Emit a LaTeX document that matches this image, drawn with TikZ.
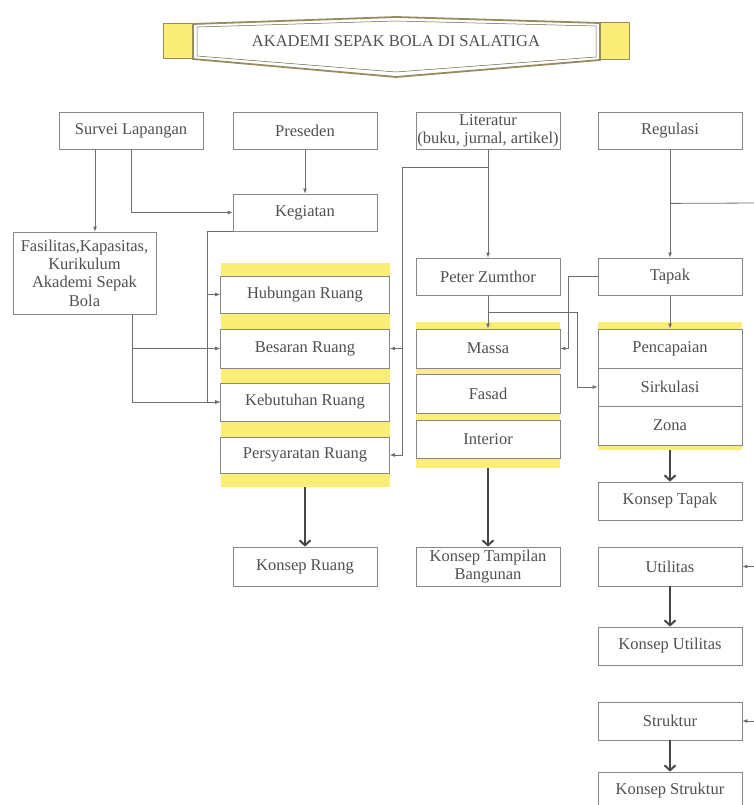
\documentclass[tikz,border=0pt]{standalone}
\usepackage{fontspec}
\setmainfont{Liberation Serif}
\usetikzlibrary{arrows.meta,calc}
\definecolor{bandyellow}{RGB}{250,238,120}
\definecolor{textgray}{RGB}{80,80,80}
\definecolor{linegray}{RGB}{110,110,110}
\definecolor{framegray}{RGB}{135,135,135}
\definecolor{bannerline}{RGB}{150,140,95}
\definecolor{flowgray}{RGB}{70,70,70}
\tikzset{>={Latex[length=5pt,width=4pt]}, % LaTeX arrow tips for the thin links
  block/.style={draw=framegray, line width=0.8pt, fill=white,
    minimum width=144pt, minimum height=37pt, inner sep=0pt,
    align=center, text=textgray},
  ruang/.style={block, minimum width=169pt},
  band/.style={fill=bandyellow, inner sep=0pt},
  link/.style={draw=linegray, line width=0.8pt, ->},
  flow/.style={draw=flowgray, line width=2pt,
    -{Straight Barb[length=5pt,width=11pt]}},
}

\begin{document}
\begin{tikzpicture}[x=1pt,y=-1pt,font={\fontsize{16.5}{18.3}\selectfont}]
    \useasboundingbox (0,0) rectangle (753,805);

    % title banner
    \draw [fill=bandyellow,draw=bannerline,line width=1pt] (163,24) rectangle (193,59);
    \draw [fill=bandyellow,draw=bannerline,line width=1pt] (600,23) rectangle (629,60);
    \draw [fill=white,draw=bannerline,line width=1.8pt]
      (193,24) -- (396,17) -- (600,23) -- (600,60) -- (396,77) -- (193,59) -- cycle;
    \draw [draw=bannerline!70!black,line width=0.5pt]
      (197,27) -- (396,21) -- (596,26) -- (596,57) -- (396,72) -- (197,56) -- cycle;
    \node [text=textgray] (title) at (396,41) {AKADEMI SEPAK BOLA DI SALATIGA};

    % yellow column bands
    \node [band,minimum width=169pt,minimum height=224pt] (ruangband) at (305,375) {};
    \node [band,minimum width=144pt,minimum height=146pt] (tampilanband) at (488,395) {};
    \node [band,minimum width=144pt,minimum height=128pt] (tapakband) at (670,386) {};

    % sources
    \node [block] (survei) at (131,130.5) {Survei Lapangan};
    \node [block] (preseden) at (305,130.5) {Preseden};
    \node [block] (literatur) at (488,130.5) {Literatur\\(buku, jurnal, artikel)};
    \node [block] (regulasi) at (670,130.5) {Regulasi};
    \node [block] (kegiatan) at (305,212.5) {Kegiatan};
    \node [block,minimum width=143pt,minimum height=82pt] (fasilitas) at (84.5,273)
      {Fasilitas,Kapasitas,\\Kurikulum\\Akademi Sepak\\Bola};
    \node [block] (peter) at (488,276.5) {Peter Zumthor};
    \node [block] (tapak) at (670,276.5) {Tapak};

    % ruang column
    \node [ruang] (hubungan) at (305,294.5) {Hubungan Ruang};
    \node [ruang,minimum height=39pt] (besaran) at (305,348.5) {Besaran Ruang};
    \node [ruang,minimum height=38pt] (kebutuhan) at (305,402) {Kebutuhan Ruang};
    \node [ruang,minimum height=36pt] (persyaratan) at (305,455) {Persyaratan Ruang};

    % tampilan column
    \node [block,minimum height=39pt] (massa) at (488,348.5) {Massa};
    \node [block,minimum height=39pt] (fasad) at (488,393.5) {Fasad};
    \node [block,minimum height=38pt] (interior) at (488,439) {Interior};

    % tapak column
    \node [block,minimum height=39pt] (pencapaian) at (670,348.5) {Pencapaian};
    \node [block,minimum height=38pt] (sirkulasi) at (670,387) {Sirkulasi};
    \node [block,minimum height=39pt] (zona) at (670,425.5) {Zona};

    % results
    \node [block,minimum height=38pt] (konseptapak) at (670,501) {Konsep Tapak};
    \node [block,minimum height=39pt] (konsepruang) at (305,566.5) {Konsep Ruang};
    \node [block,minimum height=39pt] (konseptampilan) at (488,566.5) {Konsep Tampilan\\Bangunan};
    \node [block,minimum height=39pt] (utilitas) at (670,566.5) {Utilitas};
    \node [block,minimum height=38pt] (konseputilitas) at (670,646) {Konsep Utilitas};
    \node [block,minimum height=38pt] (struktur) at (670,721) {Struktur};
    \node [block,minimum height=38pt] (konsepstruktur) at (670,791) {Konsep Struktur};

    \coordinate (rail) at (760,203);

    % thin links
    \draw [link] ([xshift=-36pt]survei.south) -- ([xshift=-36pt]survei.south |- fasilitas.north);
    \draw [link] (survei.south) |- (kegiatan.west);
    \draw [link] (preseden) -- (kegiatan);
    \draw [link] (kegiatan.south west) -| ([xshift=-13pt]hubungan.west) |- (kebutuhan.west);
    \draw [link] ([xshift=-13pt]hubungan.west) -- (hubungan.west);
    \draw [link] ([xshift=47.5pt]fasilitas.south) |- (besaran.west);
    \draw [link] ([xshift=47.5pt]fasilitas.south) |- (kebutuhan.west);
    \draw [link] (literatur) -- (peter);
    \draw [link] ([yshift=-18pt]literatur.south) -| ([xshift=12pt]persyaratan.east) -- (persyaratan.east);
    \draw [link] ([xshift=12pt]besaran.east) -- (besaran.east);
    \draw [link] (regulasi) -- (tapak);
    \draw [link,-] ([yshift=-54pt]regulasi.south) -- (rail);
    \draw [link] (rail) |- (utilitas.east);
    \draw [link] (rail) |- (struktur.east);
    \draw [link] (peter) -- (massa);
    \draw [link] ([yshift=-17pt]peter.south) -| ([xshift=-20pt]sirkulasi.west) -- (sirkulasi.west);
    \draw [link] (tapak.west) -| ([xshift=8pt]massa.east) -- (massa.east);
    \draw [link] (tapak) -- (pencapaian);

    % thick flows to the concepts
    \draw [flow] (ruangband.south) -- (konsepruang.north);
    \draw [flow] (tampilanband.south) -- (konseptampilan.north);
    \draw [flow] (tapakband.south) -- (konseptapak.north);
    \draw [flow] (utilitas) -- (konseputilitas);
    \draw [flow] (struktur) -- (konsepstruktur);
\end{tikzpicture}
\end{document}
